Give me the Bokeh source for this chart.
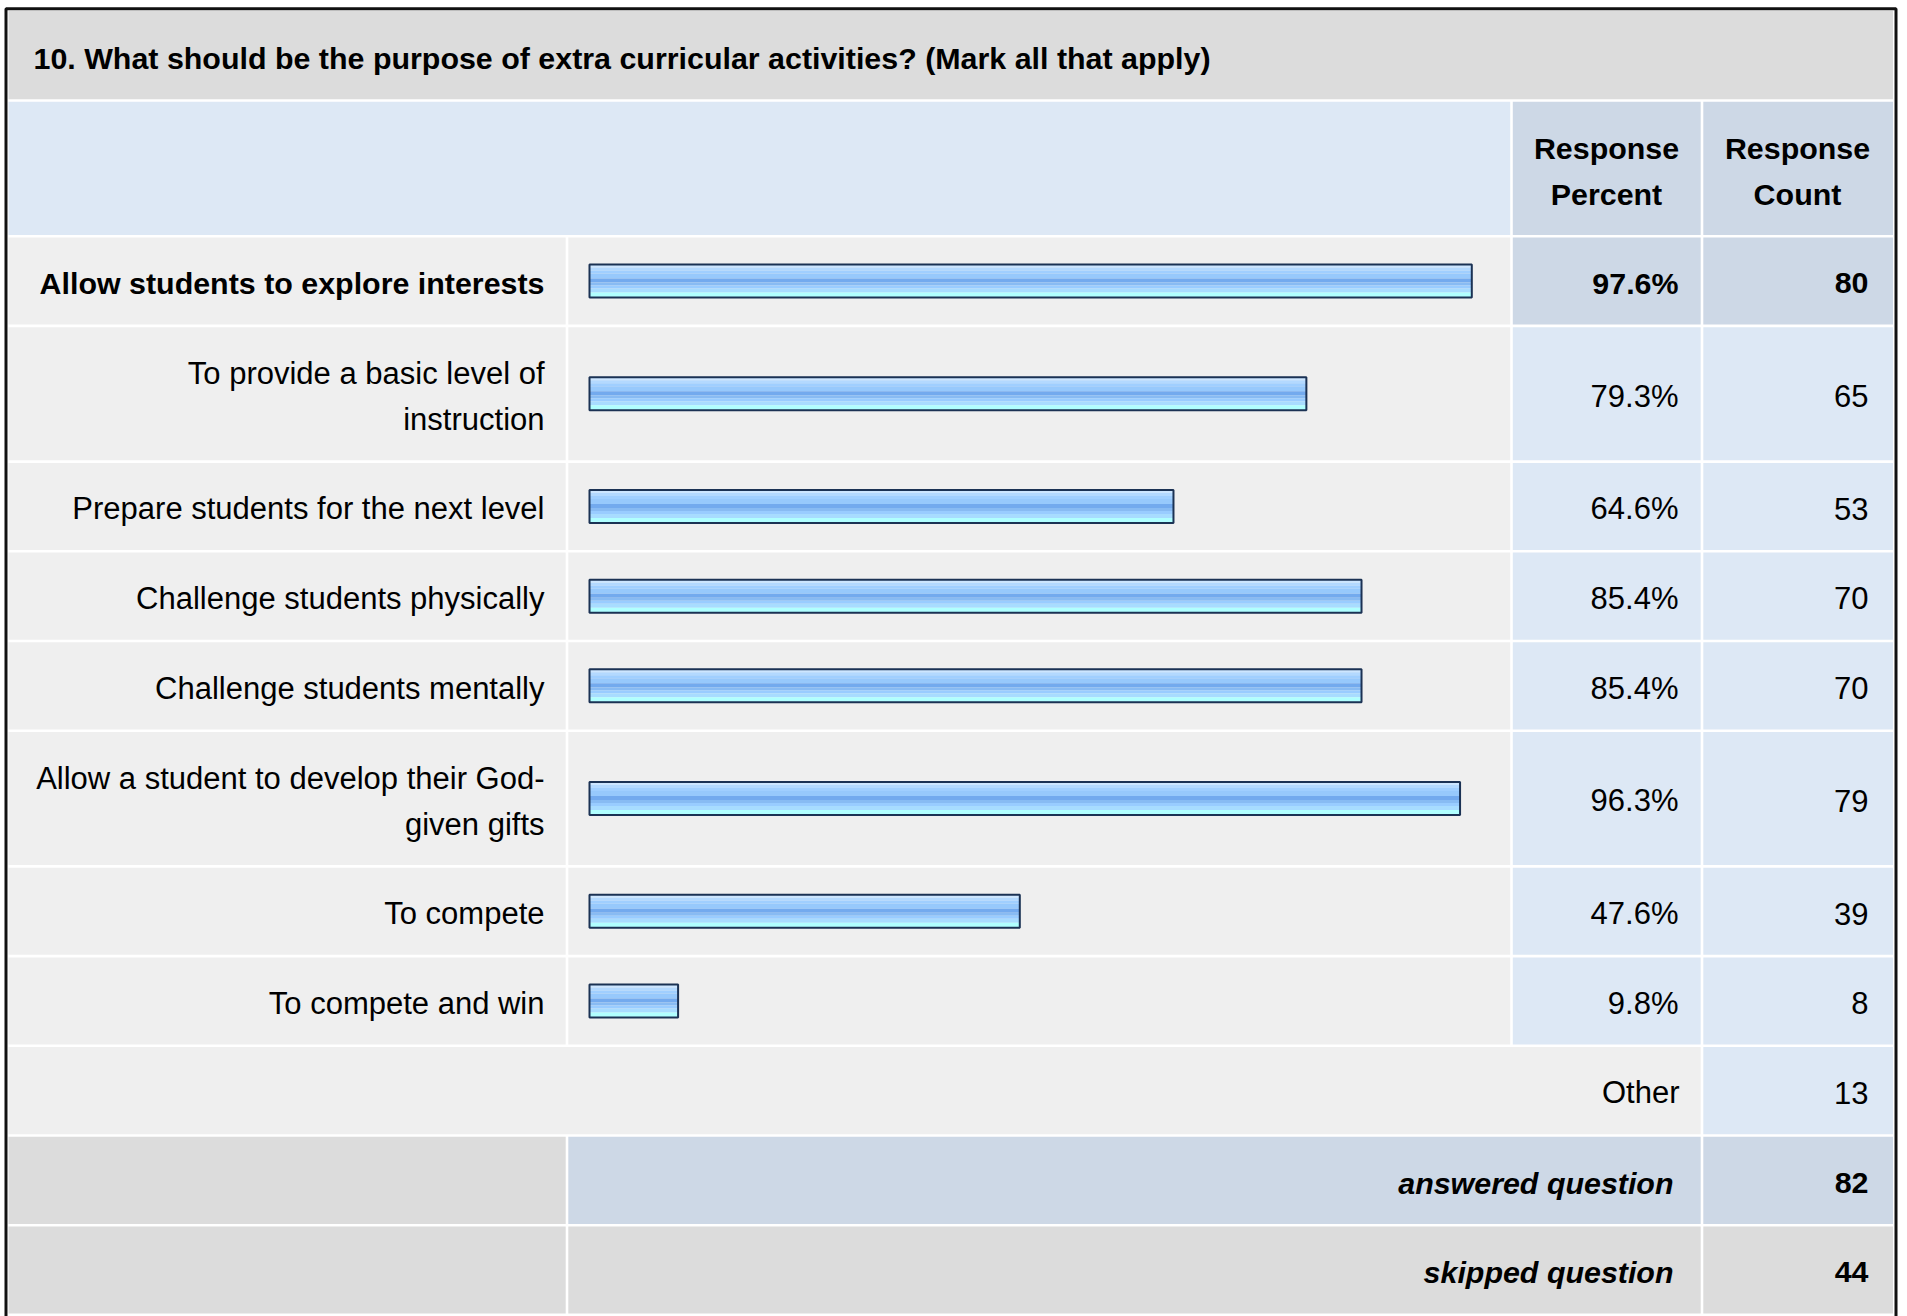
from bokeh.plotting import figure
from bokeh.models import Range1d
from bokeh.core.properties import value
from bokeh.embed import file_html
from bokeh.resources import INLINE

# ---------------- data ----------------
title_text = "10. What should be the purpose of extra curricular activities? (Mark all that apply)"
header_percent = ["Response", "Percent"]
header_count = ["Response", "Count"]
answer_lines = [
    ["Allow students to explore interests"],
    ["To provide a basic level of", "instruction"],
    ["Prepare students for the next level"],
    ["Challenge students physically"],
    ["Challenge students mentally"],
    ["Allow a student to develop their God-", "given gifts"],
    ["To compete"],
    ["To compete and win"],
]
response_percent = [97.6, 79.3, 64.6, 85.4, 85.4, 96.3, 47.6, 9.8]
response_count = [80, 65, 53, 70, 70, 79, 39, 8]
other_label = "Other"
other_count = 13
answered_label = "answered question"
answered_count = 82
skipped_label = "skipped question"
skipped_count = 44

# ---------------- layout (pixel units) ----------------
W, H = 1907, 1316
BAR_0, BAR_100 = 589.0, 1493.0
pct_per_px = 100.0 / (BAR_100 - BAR_0)

C_LEFT, C_LAB, C_BAR, C_PCT, C_RIGHT = 8.0, 566.5, 1511.0, 1701.5, 1892.5
GAP = 1.3
LINE_H, ROW_PAD, TOP0 = 46.0, 43.7, 10.3
BASE_OFF = 58.5
CENTER_OFF = 13.8
TEXT_DY = -11.5
FONT = value("Liberation Sans")
FS_N = value("31px")
FS_B = value("30.4px")

GRAY = "#dcdcdc"
LIGHT = "#efefef"
BLUE = "#dde8f5"
BLUE2 = "#cdd8e6"

p = figure(width=W, height=H, output_backend="svg", toolbar_location=None,
           x_range=Range1d(0, W), y_range=Range1d(H, 0),
           x_axis_location=None, y_axis_location=None, min_border=0)
p.extra_x_ranges = {"pct": Range1d((0 - BAR_0) * pct_per_px, (W - BAR_0) * pct_per_px)}
p.grid.visible = False
p.outline_line_color = None
p.background_fill_color = "white"
p.border_fill_color = "white"

# row structure
row_kinds = [("title", 1), ("header", 2)] + [("ans", len(l)) for l in answer_lines] + \
            [("other", 1), ("answered", 1), ("skipped", 1)]
tops, bots = [], []
y = TOP0
for kind, n in row_kinds:
    h = ROW_PAD + LINE_H * n
    tops.append(y)
    bots.append(y + h)
    y += h

cells = {"l": [], "r": [], "t": [], "b": [], "c": []}


def cell(xl, xr, yt, yb, color):
    l = xl if xl == C_LEFT else xl + GAP
    r = xr if xr == C_RIGHT else xr - GAP
    t = yt if yt == TOP0 else yt + GAP
    b = yb - GAP
    cells["l"].append(l)
    cells["r"].append(r)
    cells["t"].append(t)
    cells["b"].append(b)
    cells["c"].append(color)


max_i = response_percent.index(max(response_percent))
for i, (kind, n) in enumerate(row_kinds):
    t, b = tops[i], bots[i]
    if kind == "title":
        cell(C_LEFT, C_RIGHT, t, b, GRAY)
    elif kind == "header":
        cell(C_LEFT, C_BAR, t, b, BLUE)
        cell(C_BAR, C_PCT, t, b, BLUE2)
        cell(C_PCT, C_RIGHT, t, b, BLUE2)
    elif kind == "ans":
        k = i - 2
        cc = BLUE2 if k == max_i else BLUE
        cell(C_LEFT, C_LAB, t, b, LIGHT)
        cell(C_LAB, C_BAR, t, b, LIGHT)
        cell(C_BAR, C_PCT, t, b, cc)
        cell(C_PCT, C_RIGHT, t, b, cc)
    elif kind == "other":
        cell(C_LEFT, C_PCT, t, b, LIGHT)
        cell(C_PCT, C_RIGHT, t, b, BLUE)
    elif kind == "answered":
        cell(C_LEFT, C_LAB, t, b, GRAY)
        cell(C_LAB, C_PCT, t, b, BLUE2)
        cell(C_PCT, C_RIGHT, t, b, BLUE2)
    elif kind == "skipped":
        cell(C_LEFT, C_LAB, t, b, GRAY)
        cell(C_LAB, C_PCT, t, b, GRAY)
        cell(C_PCT, C_RIGHT, t, b, GRAY)

p.quad(left=cells["l"], right=cells["r"], top=cells["t"], bottom=cells["b"],
       fill_color=cells["c"], line_color=None)

# outer border
p.quad(left=[5.5], right=[1895.5], top=[8.3], bottom=[1330], fill_color=None,
       line_color="#111111", line_width=3)

# ---------------- bars ----------------
ans_rows = list(range(2, 2 + len(answer_lines)))
centers = [(tops[i] + bots[i]) / 2 for i in ans_rows]
BAR_H = 33.0
stripes = [  # offset from bar top edge, thickness, colour
    (0.0, 3.0, "#cde6ff"),
    (3.0, 3.0, "#b3d9ff"),
    (6.0, 3.0, "#a0cfff"),
    (9.0, 5.0, "#97c9fc"),
    (14.0, 4.0, "#73aaee"),
    (18.0, 3.0, "#88bbf3"),
    (21.0, 3.0, "#99ccff"),
    (24.0, 4.0, "#a8dcff"),
    (28.0, 5.0, "#b0ffff"),
]
for off, th, col in stripes:
    ys = [c - BAR_H / 2 + off + th / 2 for c in centers]
    p.hbar(y=ys, left=0, right=response_percent, height=th, fill_color=col,
           line_color=None, x_range_name="pct")
p.hbar(y=centers, left=0, right=response_percent, height=BAR_H, fill_color=None,
       line_color="#1b3254", line_width=2, x_range_name="pct")

# ---------------- texts ----------------


def txt(x, y, s, align="right", style="normal"):
    fs = FS_N if style == "normal" else FS_B
    p.text(x=[x], y=[y + TEXT_DY], text=[s], text_align=align, text_baseline="alphabetic",
           text_font=FONT, text_font_size=fs, text_font_style=style,
           text_color="#000000")


txt(33, tops[0] + 58.5, title_text, align="left", style="bold")
for k, s in enumerate(header_percent):
    txt(1606, tops[1] + BASE_OFF + LINE_H * k, s, align="center", style="bold")
for k, s in enumerate(header_count):
    txt(1797, tops[1] + BASE_OFF + LINE_H * k, s, align="center", style="bold")

for j, lines in enumerate(answer_lines):
    i = 2 + j
    st = "bold" if j == max_i else "normal"
    extra = 1.0 if len(lines) > 1 else 0.0
    for k, s in enumerate(lines):
        txt(544, tops[i] + BASE_OFF + extra + LINE_H * k, s, style=st)
    cy = (tops[i] + bots[i]) / 2 + CENTER_OFF
    txt(1678, cy, f"{response_percent[j]:.1f}%", style=st)
    txt(1868, cy, str(response_count[j]), style=st)

io = 2 + len(answer_lines)
txt(1679, tops[io] + BASE_OFF, other_label)
txt(1868, tops[io] + BASE_OFF, str(other_count))
txt(1673, tops[io + 1] + BASE_OFF, answered_label, style="bold italic")
txt(1868, tops[io + 1] + BASE_OFF, str(answered_count), style="bold")
txt(1673, tops[io + 2] + BASE_OFF, skipped_label, style="bold italic")
txt(1868, tops[io + 2] + BASE_OFF, str(skipped_count), style="bold")

open("out.html", "w").write(file_html(p, INLINE))
